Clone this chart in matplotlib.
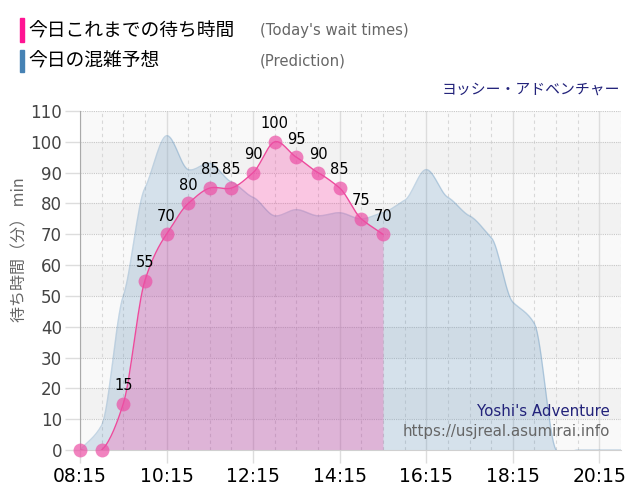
import numpy as np
import matplotlib.pyplot as plt
from matplotlib.patches import Rectangle
from matplotlib.ticker import MultipleLocator

JP = ['Noto Sans CJK JP', 'DejaVu Sans']

# today's measured wait times (every 30 min)
actual_times = ['08:15', '08:45', '09:15', '09:45', '10:15', '10:45', '11:15', '11:45',
                '12:15', '12:45', '13:15', '13:45', '14:15', '14:45', '15:15']
actual_waits = [0, 0, 15, 55, 70, 80, 85, 85, 90, 100, 95, 90, 85, 75, 70]

# predicted congestion (every 30 min)
pred_times = ['08:15', '08:45', '09:15', '09:45', '10:15', '10:45', '11:15', '11:45',
              '12:15', '12:45', '13:15', '13:45', '14:15', '14:45', '15:15', '15:45',
              '16:15', '16:45', '17:15', '17:45', '18:15', '18:45', '19:15', '19:45',
              '20:15', '20:45']
pred_waits = [0, 8, 50, 85, 102, 91, 93, 87, 82, 76, 78, 76, 77, 75, 77, 81,
              91, 82, 76, 69, 48, 41, 0, 0, 0, 0]

xtick_labels = ['08:15', '10:15', '12:15', '14:15', '16:15', '18:15', '20:15']


def to_hours(ts):
    return np.array([int(t[:2]) + int(t[3:]) / 60 for t in ts])


def smooth(x, y, s=0.8, n=16):
    # cardinal spline through the points, only for drawing the curve
    x = np.asarray(x, float)
    y = np.asarray(y, float)
    m = np.empty_like(y)
    m[1:-1] = s * (y[2:] - y[:-2]) / (x[2:] - x[:-2])
    m[0] = (y[1] - y[0]) / (x[1] - x[0])
    m[-1] = (y[-1] - y[-2]) / (x[-1] - x[-2])
    xs, ys = [], []
    t = np.linspace(0, 1, n, endpoint=False)
    for i in range(len(x) - 1):
        h = x[i + 1] - x[i]
        h00 = 2 * t**3 - 3 * t**2 + 1
        h10 = t**3 - 2 * t**2 + t
        h01 = -2 * t**3 + 3 * t**2
        h11 = t**3 - t**2
        xs.append(x[i] + t * h)
        ys.append(h00 * y[i] + h10 * h * m[i] + h01 * y[i + 1] + h11 * h * m[i + 1])
    xs.append([x[-1]])
    ys.append([y[-1]])
    return np.concatenate(xs), np.concatenate(ys)


xa = to_hours(actual_times)
xp = to_hours(pred_times)

fig = plt.figure(figsize=(6.4, 5), dpi=100)
ax = fig.add_axes([80 / 640, 50 / 500, 541 / 640, 339 / 500])
ax.set_facecolor('#f9f9f9')
for lo in range(10, 110, 20):
    ax.axhspan(lo, lo + 10, color='#f2f2f2', zorder=0, lw=0)

# grid
for h in np.arange(xp[0], xp[-1] + 0.01, 0.5):
    if abs((h - xp[0]) % 2) < 1e-6:
        ax.axvline(h, color='#dddddd', lw=1, zorder=0.5)
    else:
        ax.axvline(h, color='#d8d8d8', lw=0.8, ls=(0, (3, 3)), zorder=0.5)
for v in range(10, 111, 10):
    ax.axhline(v, color='#c8c8c8', lw=0.8, ls=(0, (1, 1)), zorder=0.5)

# prediction
bx, by = smooth(xp, pred_waits, s=0.5)
ax.fill_between(bx, by, 0, color='#4682b4', alpha=0.2, lw=0, zorder=1)
ax.plot(bx, by, color='#4682b4', alpha=0.3, lw=1, zorder=1.2)

# today's actual
px, py = smooth(xa, actual_waits, s=0.8)
ax.fill_between(px, py, 0, color='#ff1493', alpha=0.22, lw=0, zorder=2)
ax.plot(px, py, color='#ee4a9c', lw=1, zorder=2.2)
ax.plot(xa, actual_waits, 'o', color='#ec4fa5', alpha=0.7, ms=10, mec='none',
        zorder=3, clip_on=False)
for x, v in zip(xa, actual_waits):
    if v > 0:
        ax.annotate(str(v), (x, v), xytext=(0, 13), textcoords='offset points',
                    ha='center', va='center', fontsize=10.5, color='black', zorder=4)

ax.set_xlim(xp[0], xp[-1])
ax.set_ylim(0, 110)
ax.yaxis.set_major_locator(MultipleLocator(10))
ax.set_xticks(to_hours(xtick_labels))
ax.set_xticklabels(xtick_labels)
ax.tick_params(axis='x', length=9, width=1, color='#dddddd', labelsize=13.5,
               labelcolor='black', pad=3)
ax.tick_params(axis='y', length=11, width=1, color='#dddddd', labelsize=12,
               labelcolor='#444444', pad=2)
for side in ['top', 'right']:
    ax.spines[side].set_visible(False)
ax.spines['left'].set_color('#aaaaaa')
ax.spines['bottom'].set_color('#d0d0d0')

ax.set_ylabel('待ち時間（分） min', family=JP, fontsize=11.5, color='#666666')
ax.yaxis.set_label_coords(-0.095, 0.59)

ax.text(0.98, 0.115, "Yoshi's Adventure", transform=ax.transAxes, ha='right',
        va='center', fontsize=10.8, color='#22227a', zorder=5)
ax.text(0.98, 0.056, 'https://usjreal.asumirai.info', transform=ax.transAxes,
        ha='right', va='center', fontsize=10.8, color='#666666', zorder=5)

# legend header
fig.add_artist(Rectangle((20 / 640, 1 - 42 / 500), 4 / 640, 24 / 500,
                         transform=fig.transFigure, color='#ff1493'))
fig.add_artist(Rectangle((20 / 640, 1 - 72 / 500), 4 / 640, 22 / 500,
                         transform=fig.transFigure, color='#4682b4'))
fig.text(28 / 640, 1 - 31 / 500, '今日これまでの待ち時間', family=JP, fontsize=13.5,
         va='center', ha='left', color='black')
fig.text(28 / 640, 1 - 61 / 500, '今日の混雑予想', family=JP, fontsize=13.5,
         va='center', ha='left', color='black')
fig.text(260 / 640, 1 - 31 / 500, "(Today's wait times)", fontsize=10.7,
         va='center', ha='left', color='#666666')
fig.text(260 / 640, 1 - 61 / 500, '(Prediction)', fontsize=10.7,
         va='center', ha='left', color='#666666')
fig.text(620 / 640, 1 - 90 / 500, 'ヨッシー・アドベンチャー', family=JP, fontsize=10.7,
         va='center', ha='right', color='#22227a')

fig.savefig('out.png', dpi=100)
